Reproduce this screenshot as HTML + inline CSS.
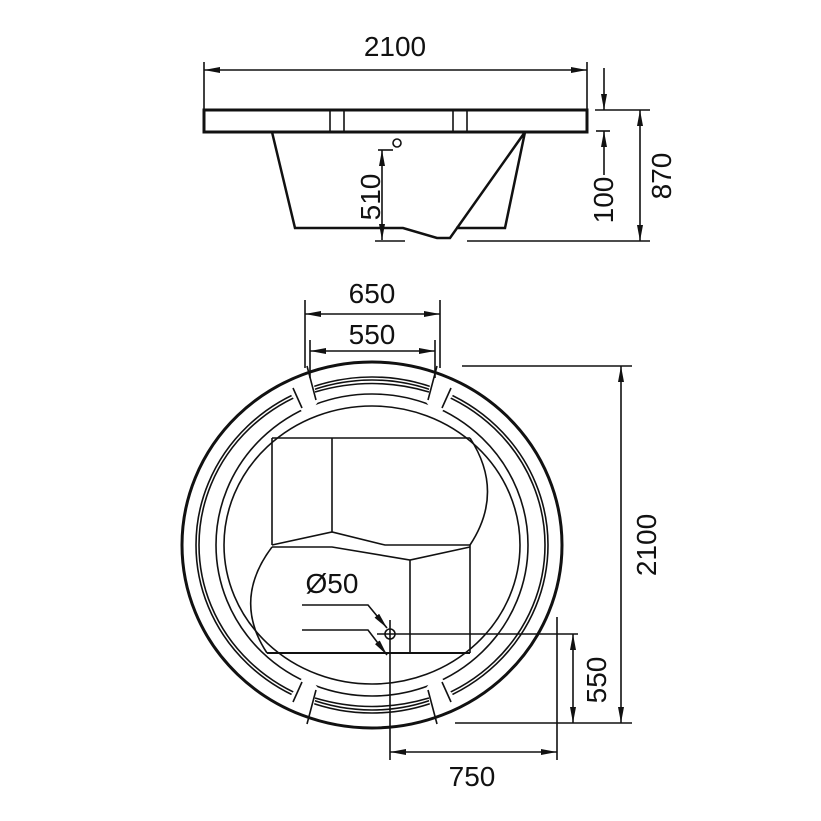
<!DOCTYPE html>
<html><head><style>body{margin:0;background:#fff}svg{display:block}text{font-family:"Liberation Sans",sans-serif;font-size:28px;fill:#111}</style></head>
<body>
<svg width="821" height="821" viewBox="0 0 821 821" xmlns="http://www.w3.org/2000/svg">
<defs>
<marker id="a" viewBox="0 0 16 6" refX="16" refY="3" markerWidth="16" markerHeight="6" markerUnits="userSpaceOnUse" orient="auto-start-reverse"><path d="M0,0 L16,3 L0,6 z" fill="#111"/></marker>
</defs>
<g stroke="#111" fill="none" stroke-width="1.6">
<line x1="204" y1="62" x2="204" y2="110"/><line x1="587" y1="62" x2="587" y2="110"/>
<line x1="204" y1="70" x2="587" y2="70" marker-start="url(#a)" marker-end="url(#a)"/>
<rect x="204" y="110" width="383" height="22" stroke-width="3"/>
<line x1="330" y1="110" x2="330" y2="132"/><line x1="344" y1="110" x2="344" y2="132"/>
<line x1="453" y1="110" x2="453" y2="132"/><line x1="467" y1="110" x2="467" y2="132"/>
<polyline points="272,132 295,228 403,228 437,238 450,238 525,132 505,228 456,228" stroke-width="2.5"/>
<circle cx="397" cy="143" r="4"/>
<line x1="378" y1="150" x2="393" y2="150"/>
<line x1="382" y1="150" x2="382" y2="240" marker-start="url(#a)" marker-end="url(#a)"/>
<line x1="375" y1="241" x2="405" y2="241"/><line x1="467" y1="241" x2="650" y2="241"/>
<line x1="595" y1="110" x2="650" y2="110"/><line x1="596" y1="131" x2="610" y2="131"/>
<line x1="604" y1="68" x2="604" y2="110" marker-end="url(#a)"/>
<line x1="604" y1="175" x2="604" y2="131" marker-end="url(#a)"/>
<line x1="640" y1="110" x2="640" y2="241" marker-start="url(#a)" marker-end="url(#a)"/>
<ellipse cx="372" cy="545" rx="176" ry="168"/>
<ellipse cx="372" cy="545" rx="173" ry="165"/>
<ellipse cx="372" cy="545" rx="156" ry="151"/>
<ellipse cx="372" cy="545" rx="148" ry="139"/>
</g>
<g fill="#fff" stroke="none">
<polygon points="296,360 308,360 318,402 306,418 288,390"/>
<polygon points="448,360 436,360 426,402 438,418 456,390"/>
<polygon points="296,730 308,730 318,688 306,672 288,700"/>
<polygon points="448,730 436,730 426,688 438,672 456,700"/>
</g>
<g stroke="#111" fill="none" stroke-width="1.6">
<ellipse cx="372" cy="545" rx="190" ry="183" stroke-width="3"/>
<path d="M315,392 Q372,375 429,392"/>
<path d="M315,698 Q372,715 429,698"/>
<line x1="307" y1="366" x2="316" y2="400"/><line x1="293" y1="388" x2="302" y2="408"/>
<line x1="437" y1="366" x2="428" y2="400"/><line x1="451" y1="388" x2="442" y2="408"/>
<line x1="307" y1="724" x2="316" y2="690"/><line x1="293" y1="702" x2="302" y2="682"/>
<line x1="437" y1="724" x2="428" y2="690"/><line x1="451" y1="702" x2="442" y2="682"/>
<line x1="305" y1="300" x2="305" y2="368"/><line x1="440" y1="300" x2="440" y2="368"/>
<line x1="305" y1="314" x2="440" y2="314" marker-start="url(#a)" marker-end="url(#a)"/>
<line x1="310" y1="340" x2="310" y2="378"/><line x1="435" y1="340" x2="435" y2="378"/>
<line x1="310" y1="351" x2="435" y2="351" marker-start="url(#a)" marker-end="url(#a)"/>
<line x1="272" y1="438" x2="470" y2="438"/>
<line x1="272" y1="438" x2="272" y2="545"/>
<line x1="332" y1="438" x2="332" y2="532"/>
<path d="M470,438 Q505,492 470,545"/>
<polyline points="272,545 332,532 385,545 470,545"/>
<polyline points="272,547 332,547 410,560 470,547"/>
<line x1="410" y1="560" x2="410" y2="653"/>
<line x1="470" y1="545" x2="470" y2="653"/>
<path d="M272,547 Q232,600 267,653"/>
<line x1="267" y1="653" x2="470" y2="653" stroke-width="2"/>
<circle cx="390" cy="634" r="5"/>
<line x1="377" y1="634" x2="578" y2="634"/>
<line x1="390" y1="620" x2="390" y2="760"/>
<polyline points="302,605 368,605 387,628" marker-end="url(#a)"/>
<polyline points="302,630 368,630 387,655" marker-end="url(#a)"/>
<line x1="462" y1="366" x2="632" y2="366"/>
<line x1="455" y1="723" x2="632" y2="723"/>
<line x1="621" y1="366" x2="621" y2="723" marker-start="url(#a)" marker-end="url(#a)"/>
<line x1="573" y1="634" x2="573" y2="723" marker-start="url(#a)" marker-end="url(#a)"/>
<line x1="557" y1="617" x2="557" y2="760"/>
<line x1="390" y1="752" x2="557" y2="752" marker-start="url(#a)" marker-end="url(#a)"/>
</g>
<text x="395" y="56" text-anchor="middle">2100</text>
<text transform="translate(380,197) rotate(-90)" text-anchor="middle">510</text>
<text transform="translate(613,200) rotate(-90)" text-anchor="middle">100</text>
<text transform="translate(671,176) rotate(-90)" text-anchor="middle">870</text>
<text x="372" y="303" text-anchor="middle">650</text>
<text x="372" y="344" text-anchor="middle">550</text>
<text x="332" y="593" text-anchor="middle">Ø50</text>
<text transform="translate(606,680) rotate(-90)" text-anchor="middle">550</text>
<text transform="translate(656,545) rotate(-90)" text-anchor="middle">2100</text>
<text x="472" y="786" text-anchor="middle">750</text>
</svg>
</body></html>
